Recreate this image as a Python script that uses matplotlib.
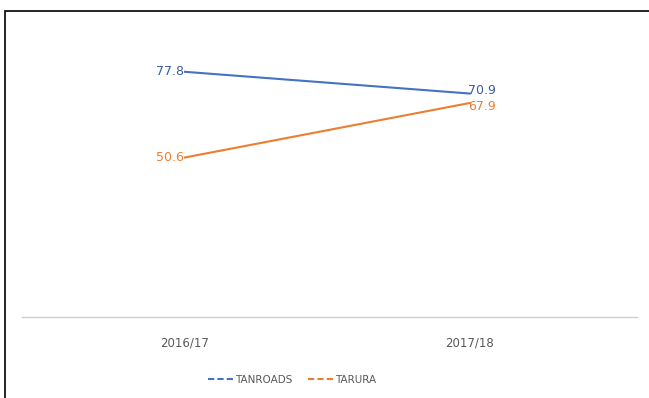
import matplotlib.pyplot as plt
from matplotlib.patches import Rectangle

years = ["2016/17", "2017/18"]
tanroads = [77.8, 70.9]
tarura = [50.6, 67.9]

blue = "#4472C4"
orange = "#ED7D31"

fig = plt.figure(figsize=(6.49, 3.98), dpi=100)
ax = fig.add_axes([0.034, 0.204, 0.947, 0.72])

x = list(range(len(years)))
ax.plot(x, tanroads, color=blue, lw=1.5, label="TANROADS")
ax.plot(x, tarura, color=orange, lw=1.5, label="TARURA")

# value labels: first point to the left, last point on top of the marker
# (end labels nudged apart a little, the two values are close)
nudge = {"TANROADS": 2.2, "TARURA": -2.2}
for name, series, col in [("TANROADS", tanroads, "#3B5BA0"),
                          ("TARURA", tarura, orange)]:
    ax.annotate(f"{series[0]}", (x[0], series[0]), xytext=(-1, 0),
                textcoords="offset points", ha="right", va="center",
                fontsize=9, color=col)
    ax.annotate(f"{series[1]}", (x[1], series[1]), xytext=(-1, nudge[name]),
                textcoords="offset points", ha="left", va="center",
                fontsize=9, color=col)

ax.set_xlim(-0.572, 1.586)
ax.set_ylim(0, 91)
ax.set_xticks(x)
ax.set_xticklabels(years, fontsize=8.5, color="#595959")
ax.tick_params(axis="x", length=0, pad=14)
ax.set_yticks([])
for side in ["top", "right", "left"]:
    ax.spines[side].set_visible(False)
ax.spines["bottom"].set_color("#D0D0D0")
ax.spines["bottom"].set_linewidth(1.0)

leg = fig.legend(loc="center", bbox_to_anchor=(0.45, 0.045), ncol=2,
                 frameon=False, fontsize=7.5, handlelength=2.4,
                 columnspacing=1.5, handletextpad=0.2)
for t in leg.get_texts():
    t.set_color("#595959")
for line in leg.get_lines():
    line.set_linestyle((0, (3, 1.5)))

# outer frame
fig.patches.append(Rectangle((5 / 649, -0.1), 1.0, 1.1 - 11 / 398,
                             transform=fig.transFigure, fill=False,
                             edgecolor="black", lw=1.2))

fig.savefig("out.png", dpi=100)
